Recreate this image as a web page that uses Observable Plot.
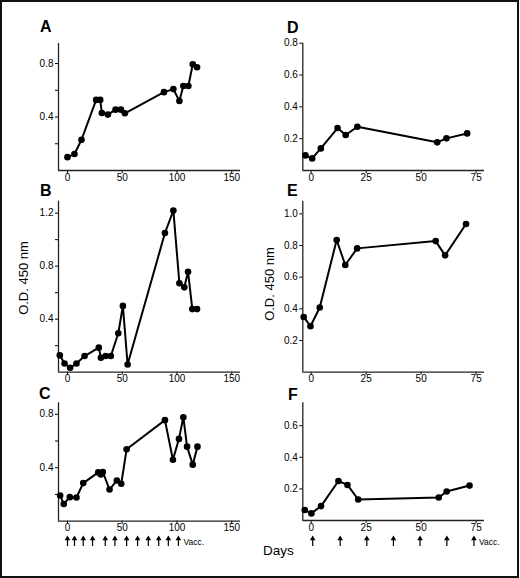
<!DOCTYPE html>
<html>
<head>
<meta charset="utf-8">
<script src="https://cdn.jsdelivr.net/npm/d3@7"></script>
<script src="https://cdn.jsdelivr.net/npm/@observablehq/plot@0.6"></script>
<style>
  html, body { margin: 0; padding: 0; background: white; }
  #root { position: relative; width: 520px; height: 578px; font-family: "Liberation Sans", Arial, Helvetica, sans-serif; overflow: hidden; }
  .frame { position: absolute; left: 0; top: 0; width: 519px; height: 578px; box-sizing: border-box; border: 2px solid #111; }
  .abs { position: absolute; }
  .letter { position: absolute; font-weight: bold; font-size: 16px; line-height: 1; color: #000; }
  .ylab { position: absolute; font-size: 13px; white-space: nowrap; transform: translate(-50%, -50%) rotate(-90deg); color: #000; }
</style>
</head>
<body>
<div id="root"><div class="frame"></div></div>
<script>
// ---- Data (days, O.D. 450 nm) ----
const daysA = [0, 6.4, 12.8, 26.2, 29.9, 31.4, 36.9, 43.9, 48.8, 52.4, 88.1, 96.7, 102.2, 105.8, 110.4, 114.4, 118.3];
const odA   = [0.10, 0.123, 0.23, 0.528, 0.528, 0.43, 0.418, 0.455, 0.455, 0.428, 0.586, 0.609, 0.52, 0.632, 0.632, 0.795, 0.772];

const daysB = [-7, -2.7, 2.4, 8.2, 15.6, 28.6, 30.5, 34.8, 39.6, 46.4, 50.6, 54.9, 89, 96.7, 102.2, 106.7, 110.1, 114, 118.3];
const odB   = [0.127, 0.066, 0.033, 0.066, 0.122, 0.185, 0.109, 0.122, 0.122, 0.294, 0.50, 0.058, 1.05, 1.22, 0.671, 0.64, 0.757, 0.476, 0.476];

const daysC = [-6.7, -3.4, 2.1, 8.2, 14.4, 28.1, 30.5, 32.3, 38.4, 45.1, 49.1, 54, 89, 96.3, 101.8, 105.8, 109.2, 114.4, 118.7];
const odC   = [0.192, 0.129, 0.18, 0.177, 0.285, 0.365, 0.35, 0.368, 0.237, 0.305, 0.28, 0.538, 0.756, 0.46, 0.616, 0.778, 0.558, 0.423, 0.558];

const daysD = [-2.6, 0.45, 4.4, 12, 15.7, 21, 57.3, 61.5, 70.9];
const odD   = [0.095, 0.076, 0.139, 0.267, 0.223, 0.275, 0.177, 0.202, 0.233];

const daysE = [-3.4, -0.3, 3.9, 11.6, 15.5, 20.9, 56.6, 60.9, 70.4];
const odE   = [0.349, 0.29, 0.409, 0.835, 0.677, 0.782, 0.828, 0.738, 0.936];

const daysF = [-2.9, 0.1, 4.5, 12.4, 16.5, 21.4, 58, 61.6, 72];
const odF   = [0.066, 0.045, 0.091, 0.25, 0.225, 0.133, 0.146, 0.184, 0.221];

const vaccLeft  = [0, 6.4, 14.4, 22.9, 34.5, 43.3, 54, 64, 73.8, 83.3, 92.1, 101.3];
const vaccRight = [0.7, 13.2, 25.3, 37.4, 49.5, 61.7, 74];

const ticksLeftX  = [0, 50, 100, 150];
const ticksRightX = [0, 25, 50, 75];

const ticksA = [0.2, 0.4, 0.6, 0.8];
const ticksB = [0.2, 0.4, 0.6, 0.8, 1.0, 1.2];
const ticksC = [0.2, 0.4, 0.6, 0.8];
const ticksD = [0.2, 0.4, 0.6, 0.8];
const ticksE = [0.2, 0.4, 0.6, 0.8, 1.0];
const ticksF = [0.2, 0.4, 0.6];

const letters = ["A", "B", "C", "D", "E", "F"];
const yTitle = "O.D. 450 nm";
const xTitle = "Days";
const vaccLabel = "Vacc.";

// ---- Layout ----
const root = document.getElementById("root");
const FONT = "'Liberation Sans', Arial, Helvetica, sans-serif";
const leftX  = {left: 0,   width: 260, marginLeft: 58,   marginRight: 20, domain: [-8.2, 158], ticks: ticksLeftX};
const rightX = {left: 260, width: 260, marginLeft: 42.3, marginRight: 36, domain: [-3.8, 78.8], ticks: ticksRightX};

const everyOther = d => (Math.round(d * 10) % 4 === 0 ? d.toFixed(1) : "");
const every = d => d.toFixed(1);

function panel(days, od, xs, top, marginTop, frameBottom, yMax, yTicks, fmt) {
  const data = days.map((d, i) => ({day: d, od: od[i]}));
  const marginBottom = 30;
  const height = frameBottom - top + marginBottom;
  const svg = Plot.plot({
    width: xs.width,
    height,
    marginLeft: xs.marginLeft,
    marginRight: xs.marginRight,
    marginTop,
    marginBottom,
    style: {background: "transparent", fontFamily: FONT, fontSize: "10px", color: "#000", overflow: "visible"},
    x: {domain: xs.domain},
    y: {domain: [0, yMax]},
    marks: [
      Plot.axisX({ticks: xs.ticks, tickSize: 3, tickPadding: 0, label: null, fontSize: 10, tickFormat: d => String(d)}),
      Plot.axisY({ticks: yTicks, tickSize: 3, tickPadding: 2, label: null, fontSize: 10, tickFormat: fmt}),
      Plot.ruleX([xs.domain[0]], {stroke: "#222", strokeWidth: 1.3}),
      Plot.ruleY([0], {stroke: "#222", strokeWidth: 1.3}),
      Plot.line(data, {x: "day", y: "od", stroke: "#000", strokeWidth: 2}),
      Plot.dot(data, {x: "day", y: "od", r: 3.3, fill: "#000", stroke: "none"})
    ]
  });
  svg.style.position = "absolute";
  svg.style.left = xs.left + "px";
  svg.style.top = top + "px";
  root.appendChild(svg);
}

panel(daysA, odA, leftX, 0,   43,   170,   0.95,  ticksA, everyOther);
panel(daysB, odB, leftX, 180, 20.7, 371.7, 1.29,  ticksB, everyOther);
panel(daysC, odC, leftX, 380, 22.3, 520.7, 0.886, ticksC, everyOther);
panel(daysD, odD, rightX, 0,   42.7, 170,   0.8,   ticksD, every);
panel(daysE, odE, rightX, 180, 20.7, 371.7, 1.08,  ticksE, every);
panel(daysF, odF, rightX, 380, 22.3, 520,   0.745, ticksF, every);

// vaccination arrows: stem (tickX spanning the strip) + triangular head at top
function arrows(vacc, xs) {
  const svg = Plot.plot({
    width: xs.width,
    height: 9,
    marginLeft: xs.marginLeft,
    marginRight: xs.marginRight,
    marginTop: 0,
    marginBottom: 0,
    style: {background: "transparent", fontFamily: FONT, color: "#000", overflow: "visible"},
    x: {domain: xs.domain, axis: null},
    marks: [
      Plot.tickX(vacc, {x: d => d, stroke: "#000", strokeWidth: 1.2}),
      Plot.dot(vacc, {x: d => d, frameAnchor: "top", symbol: "triangle", r: 2.1, fill: "#000", stroke: "none", dy: 1.2}),
      Plot.text([vacc[vacc.length - 1]], {x: d => d, text: () => vaccLabel, fontSize: 8.5, textAnchor: "start", dx: 5, dy: 0.5, fill: "#000"})
    ]
  });
  svg.style.position = "absolute";
  svg.style.left = xs.left + "px";
  svg.style.top = "537px";
  root.appendChild(svg);
}
arrows(vaccLeft, leftX);
arrows(vaccRight, rightX);

// ---- Text labels ----
const letterPos = [[40, 20], [40, 184], [39, 387], [287, 21], [287, 184], [288, 388]];
letters.forEach((t, i) => {
  const el = document.createElement("div");
  el.className = "letter";
  el.textContent = t;
  el.style.left = letterPos[i][0] + "px";
  el.style.top = (letterPos[i][1] - 1) + "px";
  root.appendChild(el);
});
[[22.5, 278], [269, 284]].forEach(([x, y]) => {
  const el = document.createElement("div");
  el.className = "ylab";
  el.textContent = yTitle;
  el.style.left = x + "px";
  el.style.top = y + "px";
  root.appendChild(el);
});
const days = document.createElement("div");
days.className = "abs";
days.style.left = "263px";
days.style.top = "543px";
days.style.fontSize = "13.5px";
days.textContent = xTitle;
root.appendChild(days);
</script>
</body>
</html>
